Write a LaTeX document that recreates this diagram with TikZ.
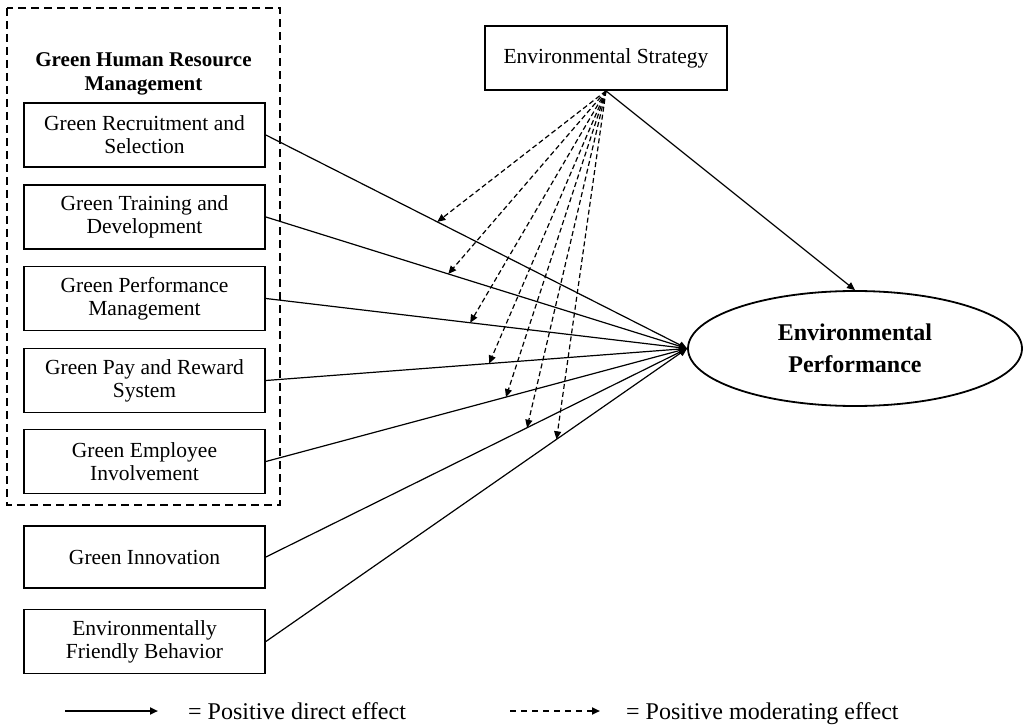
\documentclass[tikz,border=0pt]{standalone}
\usepackage{fontspec}
\setmainfont{Liberation Serif}
\usetikzlibrary{arrows.meta,shapes.geometric}

\begin{document}
\begin{tikzpicture}[x=1pt,y=-1pt,
    box/.style={draw,line width=1.8pt,minimum width=241pt,minimum height=64pt,
                inner sep=0pt,align=center,font=\fontsize{21.5}{23}\selectfont},
    direct/.style={line width=1.2pt,-{Triangle[length=8pt,width=7pt]}},
    moderate/.style={line width=1.2pt,dash pattern=on 5pt off 3pt,
                     -{Triangle[length=8pt,width=7pt]}},
    legend/.style={anchor=base west,inner sep=0pt,font=\fontsize{24}{28}\selectfont}
   ]
\useasboundingbox (0,0) rectangle (1026,727);

\draw[line width=1.8pt,dash pattern=on 8pt off 5pt] (7,8) rectangle (280,505);
\node[align=center,font=\bfseries\fontsize{21}{24}\selectfont] (ghrm) at (143.5,74)
    {Green Human Resource\\Management};

\node[box] (grs)  at (144.5,135)   {Green Recruitment and\\Selection};
\node[box] (gtd)  at (144.5,217)   {Green Training and\\Development};
\node[box] (gpm)  at (144.5,298.5) {Green Performance\\Management};
\node[box] (gprs) at (144.5,380.5) {Green Pay and Reward\\System};
\node[box] (gei)  at (144.5,461.5) {Green Employee\\Involvement};
\node[box,minimum height=62pt] (gi)  at (144.5,557)   {Green Innovation};
\node[box] (efb)  at (144.5,641.5) {Environmentally\\Friendly Behavior};

\node[box,minimum width=242pt] (es) at (606,58) {Environmental Strategy};
\node[ellipse,draw,line width=1.8pt,minimum width=334pt,minimum height=115pt,
      inner sep=0pt,align=center,font=\bfseries\fontsize{24}{32}\selectfont]
    (ep) at (855,348.5) {Environmental\\Performance};

\draw[direct] (grs.east)  -- coordinate[pos=0.407] (m1) (ep.west);
\draw[direct] (gtd.east)  -- coordinate[pos=0.433] (m2) (ep.west);
\draw[direct] (gpm.east)  -- coordinate[pos=0.485] (m3) (ep.west);
\draw[direct] (gprs.east) -- coordinate[pos=0.530] (m4) (ep.west);
\draw[direct] (gei.east)  -- coordinate[pos=0.570] (m5) (ep.west);
\draw[direct] (gi.east)   -- coordinate[pos=0.620] (m6) (ep.west);
\draw[direct] (efb.east)  -- coordinate[pos=0.690] (m7) (ep.west);
\draw[direct] (es.south) -- (ep.north);

\foreach \m in {m1,m2,m3,m4,m5,m6,m7}
  \draw[moderate] (es.south) -- (\m);

\node[legend] (ldirect) at (188,719) {= Positive direct effect};
\node[legend] (lmod) at (626,719) {= Positive moderating effect};
\coordinate (ld0) at (65,711);
\coordinate (ld1) at (158,711);
\coordinate (lm0) at (510,711);
\coordinate (lm1) at (600,711);
\draw[line width=2pt,-{Triangle[length=8pt,width=7pt]}] (ld0) -- (ld1);
\draw[line width=2pt,dash pattern=on 6pt off 5pt,-{Triangle[length=8pt,width=7pt]}] (lm0) -- (lm1);
\end{tikzpicture}
\end{document}
